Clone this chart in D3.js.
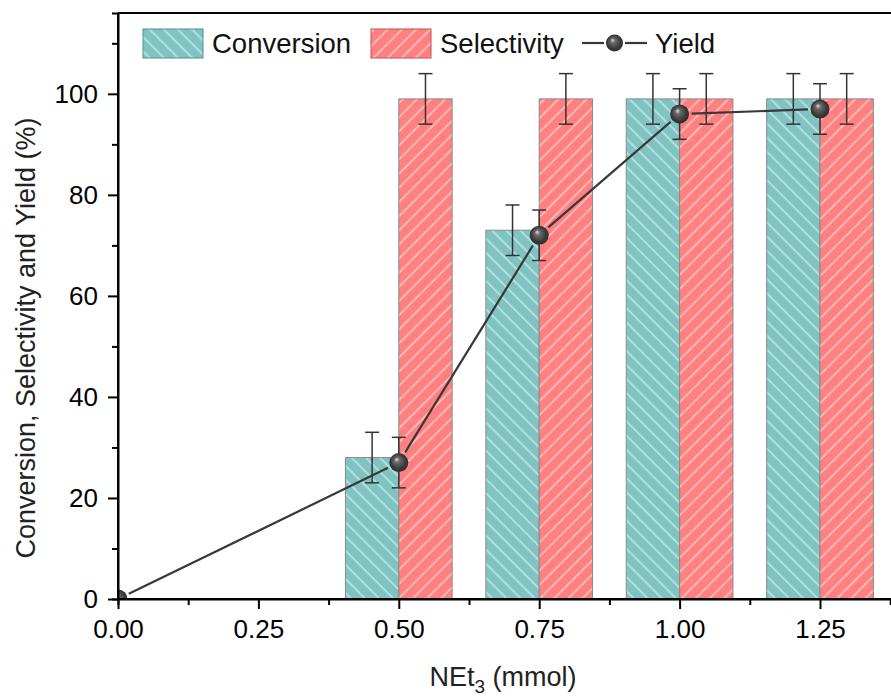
<!DOCTYPE html>
<html>
<head>
<meta charset="utf-8">
<script src="https://cdn.jsdelivr.net/npm/d3@7"></script>
<style>
  html, body { margin: 0; padding: 0; background: #fff; overflow: hidden; }
  svg { display: block; font-family: Arial, "Liberation Sans", sans-serif; }
</style>
</head>
<body>
<svg id="chart" width="891" height="697"></svg>
<script>
// NEt3 loading (mmol)
const amounts = [0, 0.5, 0.75, 1.0, 1.25];
// Conversion (%) and its error
const conversion = [0, 28, 73, 99, 99];
const conversionErr = [0, 5, 5, 5, 5];
// Selectivity (%) and its error (no value at 0 mmol)
const selectivity = [null, 99, 99, 99, 99];
const selectivityErr = [null, 5, 5, 5, 5];
// Yield (%) and its error
const yieldPct = [0, 27, 72, 96, 97];
const yieldErr = [0, 5, 5, 5, 5];

const xTicks = [0, 0.25, 0.5, 0.75, 1.0, 1.25];
const yTicks = [0, 20, 40, 60, 80, 100];

const W = 891, H = 697;
const plotLeft = 118, plotTop = 13, plotBottom = 599;
const pxPerUnit = 561.6;
const barW = 0.095;

const svg = d3.select("#chart");
const x = d3.scaleLinear().domain([0, 1.4]).range([plotLeft, plotLeft + 1.4 * pxPerUnit]);
const y = d3.scaleLinear().domain([0, 116]).range([plotBottom, plotTop]);

const defs = svg.append("defs");
function hatch(id, color, angle) {
  const s = 10;
  const p = defs.append("pattern")
    .attr("id", id)
    .attr("patternUnits", "userSpaceOnUse")
    .attr("width", s).attr("height", s)
    .attr("patternTransform", `rotate(${angle})`);
  p.append("rect").attr("width", s).attr("height", s).attr("fill", color);
  p.append("line").attr("x1", s / 2).attr("y1", -1).attr("x2", s / 2).attr("y2", s + 1)
    .attr("stroke", "#ffffff").attr("stroke-opacity", 0.5).attr("stroke-width", 1.7);
}
hatch("hatchConv", "#7fc4c2", -45);
hatch("hatchSel", "#ff8080", 45);

const grad = defs.append("radialGradient").attr("id", "ball")
  .attr("cx", "50%").attr("cy", "50%").attr("r", "55%")
  .attr("fx", "38%").attr("fy", "32%");
grad.append("stop").attr("offset", "0%").attr("stop-color", "#e0e0e0");
grad.append("stop").attr("offset", "25%").attr("stop-color", "#6a6a6a");
grad.append("stop").attr("offset", "70%").attr("stop-color", "#3a3a3a");
grad.append("stop").attr("offset", "100%").attr("stop-color", "#2a2a2a");

defs.append("clipPath").attr("id", "plotClip")
  .append("rect").attr("x", plotLeft).attr("y", plotTop - 2)
  .attr("width", W - plotLeft + 20).attr("height", plotBottom - plotTop + 2);

const plot = svg.append("g").attr("clip-path", "url(#plotClip)");

const rows = amounts.map((a, i) => ({
  a, conv: conversion[i], convErr: conversionErr[i],
  sel: selectivity[i], selErr: selectivityErr[i],
  yld: yieldPct[i], yldErr: yieldErr[i]
}));

// Bars
const barStroke = "#8a8a8a";
plot.selectAll("rect.conv").data(rows.filter(d => d.conv > 0)).join("rect")
  .attr("class", "conv")
  .attr("x", d => x(d.a - barW)).attr("width", d => x(d.a) - x(d.a - barW))
  .attr("y", d => y(d.conv)).attr("height", d => y(0) - y(d.conv))
  .attr("fill", "url(#hatchConv)").attr("stroke", barStroke).attr("stroke-width", 1);
plot.selectAll("rect.sel").data(rows.filter(d => d.sel != null)).join("rect")
  .attr("class", "sel")
  .attr("x", d => x(d.a)).attr("width", d => x(d.a + barW) - x(d.a))
  .attr("y", d => y(d.sel)).attr("height", d => y(0) - y(d.sel))
  .attr("fill", "url(#hatchSel)").attr("stroke", barStroke).attr("stroke-width", 1);

// Error bars
function errorBars(data, xf, vf, ef) {
  const cap = 7;
  const g = plot.append("g").attr("stroke", "#333").attr("stroke-width", 1.5).attr("fill", "none");
  data.forEach(d => {
    const cx = x(xf(d)), hi = y(vf(d) + ef(d)), lo = y(vf(d) - ef(d));
    g.append("line").attr("x1", cx).attr("x2", cx).attr("y1", hi).attr("y2", lo);
    g.append("line").attr("x1", cx - cap).attr("x2", cx + cap).attr("y1", hi).attr("y2", hi);
    g.append("line").attr("x1", cx - cap).attr("x2", cx + cap).attr("y1", lo).attr("y2", lo);
  });
}
errorBars(rows.filter(d => d.conv > 0), d => d.a - barW / 2, d => d.conv, d => d.convErr);
errorBars(rows.filter(d => d.sel != null), d => d.a + barW / 2, d => d.sel, d => d.selErr);
errorBars(rows.filter(d => d.yldErr > 0), d => d.a, d => d.yld, d => d.yldErr);

// Yield line, broken around each marker
const gap = 12;
const lineG = plot.append("g").attr("stroke", "#383838").attr("stroke-width", 2.2);
for (let i = 0; i < rows.length - 1; i++) {
  const x1 = x(rows[i].a), y1 = y(rows[i].yld), x2 = x(rows[i + 1].a), y2 = y(rows[i + 1].yld);
  const len = Math.hypot(x2 - x1, y2 - y1), ux = (x2 - x1) / len, uy = (y2 - y1) / len;
  lineG.append("line")
    .attr("x1", x1 + ux * gap).attr("y1", y1 + uy * gap)
    .attr("x2", x2 - ux * gap).attr("y2", y2 - uy * gap);
}
plot.selectAll("circle.yield").data(rows).join("circle")
  .attr("class", "yield")
  .attr("cx", d => x(d.a)).attr("cy", d => y(d.yld)).attr("r", 9.5)
  .attr("fill", "url(#ball)");

// Axes
const xAxis = svg.append("g").attr("transform", `translate(0,${plotBottom})`);
xAxis.call(d3.axisBottom(x).tickValues(xTicks).tickFormat(d3.format(".2f")).tickSize(10).tickPadding(11));
xAxis.append("g").call(d3.axisBottom(x).tickValues(d3.range(0.125, 1.4, 0.25)).tickFormat("").tickSize(6));

const yAxis = svg.append("g").attr("transform", `translate(${plotLeft},0)`);
yAxis.call(d3.axisLeft(y).tickValues(yTicks).tickSize(10).tickPadding(10));
yAxis.append("g").call(d3.axisLeft(y).tickValues(d3.range(10, 116, 20)).tickFormat("").tickSize(6));

svg.selectAll(".domain").attr("stroke", "#000").attr("stroke-width", 2);
svg.selectAll(".tick line").attr("stroke", "#000").attr("stroke-width", 2);
svg.selectAll(".tick text").attr("font-size", 26).attr("fill", "#000")
  .attr("font-family", "Arial, 'Liberation Sans', sans-serif");
yAxis.select(".domain").attr("d", `M0,${plotBottom}V${plotTop}`);
xAxis.select(".domain").attr("d", `M${plotLeft},0H${W + 10}`);

// Top frame line
svg.append("line").attr("x1", plotLeft).attr("x2", W + 10).attr("y1", plotTop).attr("y2", plotTop)
  .attr("stroke", "#000").attr("stroke-width", 2);

// Axis titles
const xt = svg.append("text").attr("x", 503).attr("y", 686).attr("text-anchor", "middle")
  .attr("font-size", 27).attr("fill", "#222");
xt.append("tspan").text("NEt");
xt.append("tspan").attr("font-size", 19).attr("dy", 7).text("3");
xt.append("tspan").attr("dy", -7).text(" (mmol)");

svg.append("text")
  .attr("transform", `translate(35,${(plotTop + plotBottom) / 2 + 32}) rotate(-90)`)
  .attr("text-anchor", "middle").attr("font-size", 27).attr("fill", "#222")
  .text("Conversion, Selectivity and Yield (%)");

// Legend
const lg = svg.append("g");
lg.append("rect").attr("x", 143).attr("y", 29).attr("width", 60).attr("height", 29)
  .attr("fill", "url(#hatchConv)").attr("stroke", "#4e8f8d").attr("stroke-width", 1);
lg.append("text").attr("x", 212).attr("y", 53).attr("font-size", 27.5).attr("fill", "#111").text("Conversion");
lg.append("rect").attr("x", 371).attr("y", 29).attr("width", 60).attr("height", 29)
  .attr("fill", "url(#hatchSel)").attr("stroke", "#c05050").attr("stroke-width", 1);
lg.append("text").attr("x", 440).attr("y", 53).attr("font-size", 27.5).attr("fill", "#111").text("Selectivity");
lg.append("line").attr("x1", 582).attr("x2", 604).attr("y1", 43).attr("y2", 43).attr("stroke", "#383838").attr("stroke-width", 2.2);
lg.append("line").attr("x1", 625).attr("x2", 647).attr("y1", 43).attr("y2", 43).attr("stroke", "#383838").attr("stroke-width", 2.2);
lg.append("circle").attr("cx", 614.5).attr("cy", 43).attr("r", 8.5).attr("fill", "url(#ball)");
lg.append("text").attr("x", 655).attr("y", 53).attr("font-size", 27.5).attr("fill", "#111").text("Yield");
</script>
</body>
</html>
